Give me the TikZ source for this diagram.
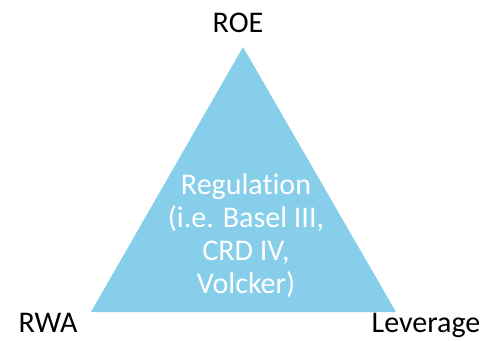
\documentclass[tikz,border=0pt]{standalone}
\usepackage{fontspec}
\setmainfont{Carlito}[Ligatures=NoCommon]
\definecolor{regblue}{RGB}{135,206,235}

\begin{document}
\begin{tikzpicture}[x=1pt,y=-1pt,
    corner/.style={font=\fontsize{30}{33}\selectfont,color=black,anchor=base,inner sep=0pt}]
    % Frame
    \useasboundingbox (0,0) rectangle (484,340);
    % Triangle
    \coordinate (top) at (243,47);
    \coordinate (left) at (91,312);
    \coordinate (right) at (396,312);
    \fill[regblue] (top) -- (left) -- (right) -- cycle;
    \node[align=center,color=white,font=\fontsize{30}{33}\selectfont] (reg) at (246,236)
        {Regulation\\(i.e. Basel III,\\CRD IV,\\Volcker)};
    % Corners
    \node[corner] (roe) at (238,32) {ROE};
    \node[corner] (rwa) at (48,332) {RWA};
    \node[corner] (lev) at (426,332) {Leverage};
\end{tikzpicture}
\end{document}
